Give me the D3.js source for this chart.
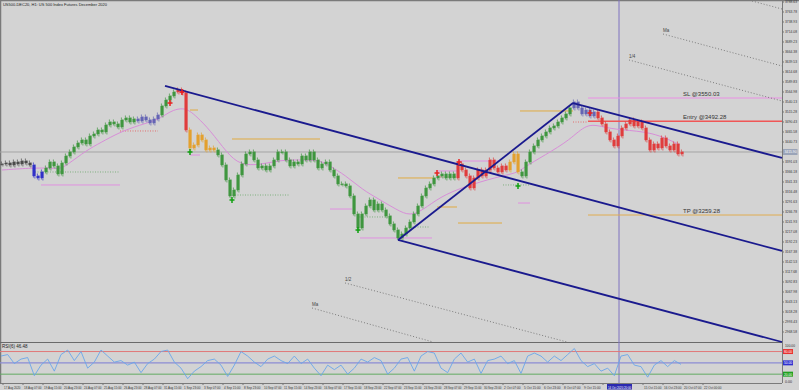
<!DOCTYPE html>
<html><head><meta charset="utf-8">
<script src="https://cdn.jsdelivr.net/npm/d3@7"></script>
<style>
body{margin:0;background:#d3d3d3;overflow:hidden}
text{font-family:"Liberation Sans",Arial,sans-serif;}
</style>
</head><body><svg id="c" width="799" height="390"></svg>
<script>
// ---------------- DATA ----------------
const title = "US500-DEC20, H1: US 500 Index Futures December 2020";
const closes = [3386.1,3388.5,3383.6,3391.0,3386.1,3393.5,3388.5,3383.6,3356.2,3351.3,
3366.2,3376.1,3391.0,3381.1,3361.2,3388.5,3405.9,3415.9,3428.3,3438.2,
3445.7,3435.8,3455.6,3460.6,3470.5,3465.6,3483.0,3490.4,3485.5,3478.0,
3495.4,3500.4,3490.4,3497.9,3492.9,3502.9,3495.4,3487.9,3497.9,3507.8,
3530.2,3545.1,3555.0,3565.0,3569.9,3562.5,3470.5,3425.8,3433.3,3458.1,
3445.7,3420.8,3425.8,3420.8,3408.4,3383.6,3346.3,3306.5,3321.4,3358.7,
3386.1,3410.9,3415.9,3396.0,3376.1,3381.1,3371.1,3381.1,3396.0,3415.9,
3415.9,3396.0,3381.1,3391.0,3386.1,3405.9,3396.0,3415.9,3396.0,3376.1,
3386.1,3391.0,3371.1,3356.2,3336.4,3336.4,3331.4,3306.5,3261.8,3227.0,
3261.8,3281.7,3296.6,3271.7,3286.7,3271.7,3256.8,3237.0,3222.0,3202.2,
3212.1,3227.0,3241.9,3261.8,3281.7,3306.5,3326.4,3336.4,3351.3,3356.2,
3361.2,3351.3,3361.2,3351.3,3386.1,3371.1,3356.2,3326.4,3351.3,3371.1,
3356.2,3371.1,3396.0,3376.1,3366.2,3381.1,3371.1,3391.0,3410.9,3366.2,
3356.2,3391.0,3415.9,3430.8,3445.7,3455.6,3465.6,3475.5,3480.5,3490.4,
3500.4,3510.3,3525.2,3540.1,3525.2,3510.3,3520.2,3505.3,3515.3,3500.4,
3485.5,3465.6,3445.7,3430.8,3455.6,3475.5,3485.5,3495.4,3480.5,3490.4,
3475.5,3445.7,3420.8,3435.8,3425.8,3450.7,3430.8,3420.8,3435.8,3410.9,3415.9];
// colour group of each run of bars: [first bar, last bar, group]
const barGroups = [[0,7,"gray"],[8,10,"blue"],[11,33,"green"],[34,39,"purple"],[40,43,"green"],
[44,46,"red"],[47,53,"orange"],[54,113,"green"],[114,126,"red"],[127,129,"orange"],
[130,142,"green"],[143,148,"purple"],[149,170,"red"]];
// moving average (bar index, value)
const maIndex = [0,7,12,14.5,16.25,21.25,24.5,29.5,34.5,38.75,40.75,42.75,45.25,47,48.75,52,56.25,59.5,64.5,69.5,74.5,79.5,82,85.75,90.25,93.75,98.75,102,105.25,109.5,115.25,123.75,128.75,130.25,135.75,142,146.25,150.25,154.5,162.75,169.5];
const maValues = [3371.1,3376.1,3376.1,3373.6,3383.6,3420.8,3438.2,3465.6,3483.0,3495.4,3507.8,3520.2,3525.2,3517.8,3502.9,3470.5,3413.4,3383.6,3383.6,3396.0,3396.0,3396.0,3381.1,3358.7,3321.4,3301.6,3271.7,3256.8,3271.7,3304.1,3328.9,3353.8,3363.7,3376.1,3408.4,3445.7,3487.9,3478.0,3470.5,3465.6,3433.3];
// horizontal levels: [from bar, to bar, price, kind]
const levels = [
[8.25,29.5,3366.2,"supDot"],[9.75,29.5,3333.9,"pink"],[29.5,39,3468.1,"resDot"],
[47,49,3520.2,"orange"],[47,49.5,3408.4,"pink"],[57.5,79.5,3448.2,"orange"],[57,72,3309.0,"supDot"],
[82,87.5,3274.2,"pink"],[88.75,97,3254.4,"supDot"],[102,107,3229.5,"supDot"],[89.5,107.5,3202.2,"pink"],
[99,107.75,3351.3,"orange"],[108.75,114,3368.7,"pink"],[114,124.5,3393.5,"pink"],[109.5,114,3353.8,"resDot"],
[108.75,113.75,3279.2,"orange"],[114,125,3239.4,"orange"],[125.25,132,3333.9,"supDot"],[129,132,3289.1,"pink"],
[129.5,142.75,3517.8,"orange"],[142.75,146.5,3490.4,"resDot"]];
// trade lines
const tradeLabels = ["SL @3550.03","Entry @3492.28","TP @3259.28"];
const tradePrices = [3550.03,3492.28,3259.28];
const tradeKinds = ["sl","entry","tp"];
const tradeStart = 146.5;
// channel lines: [bar0, price0, bar1, price1]
const channel = [[40.75,3579.9,195,3169.9],[99,3197.2,195,2943.7],[142.75,3537.6,195,3401.0],[99,3197.2,142.75,3537.6]];
// dotted projection lines: [bar0, price0, bar1, price1, label]
const projections = [[165.25,3709.1,195,3629.6,"Ma"],[156.75,3644.5,195,3542.6,"1/4"],[187.5,3791.1,195,3771.2,""],
[85.75,3090.4,141.25,2943.7,"1/2"],[77.5,3028.2,107.75,2943.7,"Ma"]];
// signal markers: [bar, price, kind]
const markers = [[42,3537.6,"sell"],[45,3565.0,"sell"],[108.75,3363.7,"sell"],[114.25,3391.0,"sell"],[147,3512.8,"sell"],
[47,3415.9,"buy"],[57.5,3296.6,"buy"],[89,3222.0,"buy"],[129,3331.4,"buy"]];
const priceTicks = [3788.63,3763.78,3738.93,3714.08,3689.23,3664.38,3639.53,3614.68,3589.83,3564.98,
3540.13,3515.28,3490.43,3465.58,3440.73,3391.03,3366.18,3341.33,3316.48,3291.63,
3266.78,3241.93,3217.08,3192.23,3167.38,3142.53,3117.68,3092.83,3067.98,3043.13,3018.28,2993.43,2968.58];
const rsiValues = [68,72,48,60,64,16,44,60,28,72,84,56,80,36,52,84,68,52,56,44,
52,24,48,60,80,84,52,36,8,28,40,56,60,44,14,44,80,68,52,40,
60,68,56,48,68,48,60,36,16,44,32,44,20,36,60,52,64,56,20,36,
60,64,28,68,80,76,36,24,60,76,52,60,22,56,60,68,48,56,22,68,
76,68,52,68,56,72,88,56,40,48,28,36,16,68,72,44,40,12,44,56,40,56,46];
const rsiLevels = [80,50,20];
const rsiLabel = "RSI(6) 46.48";
const dateTicks = ["17 Aug 2020","18 Aug 07:00","19 Aug 15:00","20 Aug 23:00","24 Aug 07:00","25 Aug 15:00","26 Aug 23:00",
"28 Aug 07:00","31 Aug 15:00","1 Sep 23:00","3 Sep 07:00","4 Sep 15:00","8 Sep 23:00","10 Sep 07:00","11 Sep 15:00",
"14 Sep 23:00","16 Sep 07:00","17 Sep 15:00","18 Sep 23:00","22 Sep 07:00","23 Sep 15:00","24 Sep 23:00","28 Sep 07:00",
"29 Sep 15:00","30 Sep 23:00","2 Oct 07:00","5 Oct 15:00","6 Oct 23:00","8 Oct 07:00","9 Oct 15:00","12 Oct 23:00",
"14 Oct 07:00","15 Oct 15:00","16 Oct 23:00","20 Oct 07:00","22 Oct 00:00"];
const cursorBar = 154.25;
const cursorLabel = "14 Oct 2020 20:00";

// ---------------- DRAW ----------------
const svg = d3.select("#c");
const W=799,H=390, L=2, R=782, T=2, B=342, RT=343, RB=383;
const x = d3.scaleLinear().domain([0,195]).range([L,R]);
const y = d3.scaleLinear().domain([2943.7,3793.6-2.485*2]).range([B,T]);
const xr = d3.scaleLinear().domain([0,rsiValues.length-1]).range([1,681]);
const yr = d3.scaleLinear().domain([0,100]).range([381.7,344]);
const groupColor = {gray:"#4a4a4a",blue:"#3030c8",green:"#3f963f",purple:"#6464b4",red:"#e03c3c",orange:"#e3a02e"};
const levelStyle = {supDot:["#7fb07f","1,1.5"],resDot:["#e07070","1,1.5"],pink:["#e090e0",null],orange:["#e0aa40",null]};
const tradeColor = {sl:"#ea8fe4",entry:"#f05656",tp:"#e0ac50"};
const fit = (sel,len)=>sel.attr("textLength",len).attr("lengthAdjust","spacingAndGlyphs");

svg.append("rect").attr("width",W).attr("height",H).attr("fill","#d3d3d3");
// frame
svg.append("line").attr("x1",0).attr("x2",W).attr("y1",0.5).attr("y2",0.5).attr("stroke","#7a7a7a").attr("stroke-width",1.5);
svg.append("line").attr("x1",0.5).attr("x2",0.5).attr("y1",0).attr("y2",RB).attr("stroke","#7a7a7a").attr("stroke-width",1.5);
svg.append("line").attr("x1",R+0.5).attr("x2",R+0.5).attr("y1",0).attr("y2",RB).attr("stroke","#7a7a7a").attr("stroke-width",1);
svg.append("line").attr("x1",0).attr("x2",R).attr("y1",B+0.5).attr("y2",B+0.5).attr("stroke","#6a6a6a").attr("stroke-width",1);
svg.append("line").attr("x1",0).attr("x2",R).attr("y1",RB+0.5).attr("y2",RB+0.5).attr("stroke","#7a7a7a").attr("stroke-width",1);

// current price line
const last = closes[closes.length-1];
svg.append("line").attr("x1",0).attr("x2",R).attr("y1",y(last)).attr("y2",y(last)).attr("stroke","#a4a4a4").attr("stroke-width",1);

// crosshair vertical
svg.append("line").attr("x1",x(cursorBar)).attr("x2",x(cursorBar)).attr("y1",0).attr("y2",RB).attr("stroke","#7f72c0").attr("stroke-width",1);

// levels
svg.append("g").selectAll("line").data(levels).join("line")
 .attr("x1",d=>x(d[0])).attr("x2",d=>x(d[1])).attr("y1",d=>y(d[2])).attr("y2",d=>y(d[2]))
 .attr("stroke",d=>levelStyle[d[3]][0]).attr("stroke-dasharray",d=>levelStyle[d[3]][1]).attr("stroke-width",1);

// trade lines
tradePrices.forEach((p,i)=>{
  svg.append("line").attr("x1",x(tradeStart)).attr("x2",R).attr("y1",y(p)).attr("y2",y(p))
   .attr("stroke",tradeColor[tradeKinds[i]]).attr("stroke-width",i==1?1.4:1);
  svg.append("text").attr("x",683).attr("y",y(p)-2).attr("font-size",6).attr("fill","#333").text(tradeLabels[i]);
});

// projections
const pg = svg.append("g");
projections.forEach(d=>{
  pg.append("line").attr("x1",x(d[0])).attr("y1",y(d[1])).attr("x2",x(d[2])).attr("y2",y(d[3]))
   .attr("stroke","#7c7c7c").attr("stroke-width",1).attr("stroke-dasharray","1,2");
  if(d[4]) pg.append("text").attr("x",x(d[0])).attr("y",y(d[1])-2).attr("font-size",4.5).attr("fill","#444").text(d[4]);
});

// moving average
svg.append("path").datum(maIndex.map((v,i)=>[v,maValues[i]]))
 .attr("d",d3.line().x(d=>x(d[0])).y(d=>y(d[1])).curve(d3.curveBasis))
 .attr("fill","none").attr("stroke","#d88ed8").attr("stroke-width",1);

// candles
const colorOf = i => { const g = barGroups.find(s=>i>=s[0]&&i<=s[1]); return groupColor[g?g[2]:"gray"]; };
const cg = svg.append("g");
closes.forEach((c,i)=>{
  const o = i===0?c:closes[i-1];
  const top = y(Math.max(o,c)), bot = y(Math.min(o,c));
  cg.append("line").attr("x1",x(i)-0.6).attr("x2",x(i)-0.6).attr("y1",top-2.5).attr("y2",bot+1.5).attr("stroke",colorOf(i)).attr("stroke-width",0.7);
  cg.append("line").attr("x1",x(i)+0.9).attr("x2",x(i)+0.9).attr("y1",top-1).attr("y2",bot+2.5).attr("stroke",colorOf(i)).attr("stroke-width",0.7);
  cg.append("rect").attr("x",x(i)-1.5).attr("width",3).attr("y",top).attr("height",Math.max(0.8,bot-top)).attr("fill",colorOf(i));
});

// channel lines
svg.append("g").selectAll("line").data(channel).join("line")
 .attr("x1",d=>x(d[0])).attr("y1",d=>y(d[1])).attr("x2",d=>x(d[2])).attr("y2",d=>y(d[3]))
 .attr("stroke","#1a1a8e").attr("stroke-width",1.8);

// markers
const mg = svg.append("g");
markers.forEach(d=>{
  const col = d[2]==="sell"?"#e82020":"#10a010";
  const cx=x(d[0]), cy=y(d[1]);
  mg.append("line").attr("x1",cx-2.5).attr("x2",cx+2.5).attr("y1",cy).attr("y2",cy).attr("stroke",col).attr("stroke-width",1.5);
  mg.append("line").attr("x1",cx).attr("x2",cx).attr("y1",cy-3).attr("y2",cy+3).attr("stroke",col).attr("stroke-width",1.5);
});

// price axis
const ag = svg.append("g");
priceTicks.forEach(p=>{
  ag.append("line").attr("x1",R).attr("x2",R+2).attr("y1",y(p)).attr("y2",y(p)).attr("stroke","#777");
  fit(ag.append("text").attr("x",R+3).attr("y",y(p)+1.4).attr("font-size",4).attr("fill","#333").text(p.toFixed(2)),12);
});
ag.append("rect").attr("x",R+1).attr("y",y(last)-3).attr("width",14.5).attr("height",6).attr("fill","#9aa4b8");
fit(ag.append("text").attr("x",R+2.5).attr("y",y(last)+1.4).attr("font-size",4).attr("fill","#fff").text(last.toFixed(2)),12);

// title
fit(svg.append("text").attr("x",3).attr("y",6.3).attr("font-size",4.2).attr("fill","#222").text(title),104);

// RSI
const rsiCol = {80:"#e07878",50:"#8c8cd4",20:"#62aa62"};
const rsiBox = {80:"#e83030",50:"#3030d0",20:"#20a020"};
rsiLevels.forEach(v=>{
  svg.append("line").attr("x1",0).attr("x2",R).attr("y1",yr(v)).attr("y2",yr(v)).attr("stroke",rsiCol[v]).attr("stroke-width",v==50?1.4:1);
  svg.append("rect").attr("x",R+1).attr("y",yr(v)-2.5).attr("width",10).attr("height",5).attr("fill",rsiBox[v]);
  fit(svg.append("text").attr("x",R+2).attr("y",yr(v)+1.4).attr("font-size",3.8).attr("fill","#fff").text(v.toFixed(2)),8);
});
fit(svg.append("text").attr("x",R+3).attr("y",346.5).attr("font-size",3.8).attr("fill","#333").text("100.00"),10);
fit(svg.append("text").attr("x",R+3).attr("y",382.5).attr("font-size",3.8).attr("fill","#333").text("0.00"),7);
svg.append("path").datum(rsiValues)
 .attr("d",d3.line().x((d,i)=>xr(i)).y(d=>yr(d)))
 .attr("fill","none").attr("stroke","#6aa6ea").attr("stroke-width",0.9);
svg.append("text").attr("x",2).attr("y",348).attr("font-size",4.5).attr("fill","#222").text(rsiLabel);

// date axis
const dg = svg.append("g");
const boxX0 = x(cursorBar)-12, boxX1 = x(cursorBar)+13;
dateTicks.forEach((t,k)=>{
  const xx = x(5*k+0.25);
  dg.append("line").attr("x1",xx).attr("x2",xx).attr("y1",RB).attr("y2",RB+2).attr("stroke","#777");
  const w = Math.min(17.5, t.length*1.5);
  if (xx+1+w > boxX0-0.5 && xx+1 < boxX1+0.5) return;
  fit(dg.append("text").attr("x",xx+1).attr("y",388.6).attr("font-size",3.6).attr("fill","#333").text(t), w);
});
dg.append("rect").attr("x",boxX0).attr("y",384).attr("width",boxX1-boxX0).attr("height",5.5).attr("fill","#2a2ab0");
fit(dg.append("text").attr("x",boxX0+1).attr("y",388.6).attr("font-size",3.6).attr("fill","#fff").text(cursorLabel),23);
</script>
</body></html>
